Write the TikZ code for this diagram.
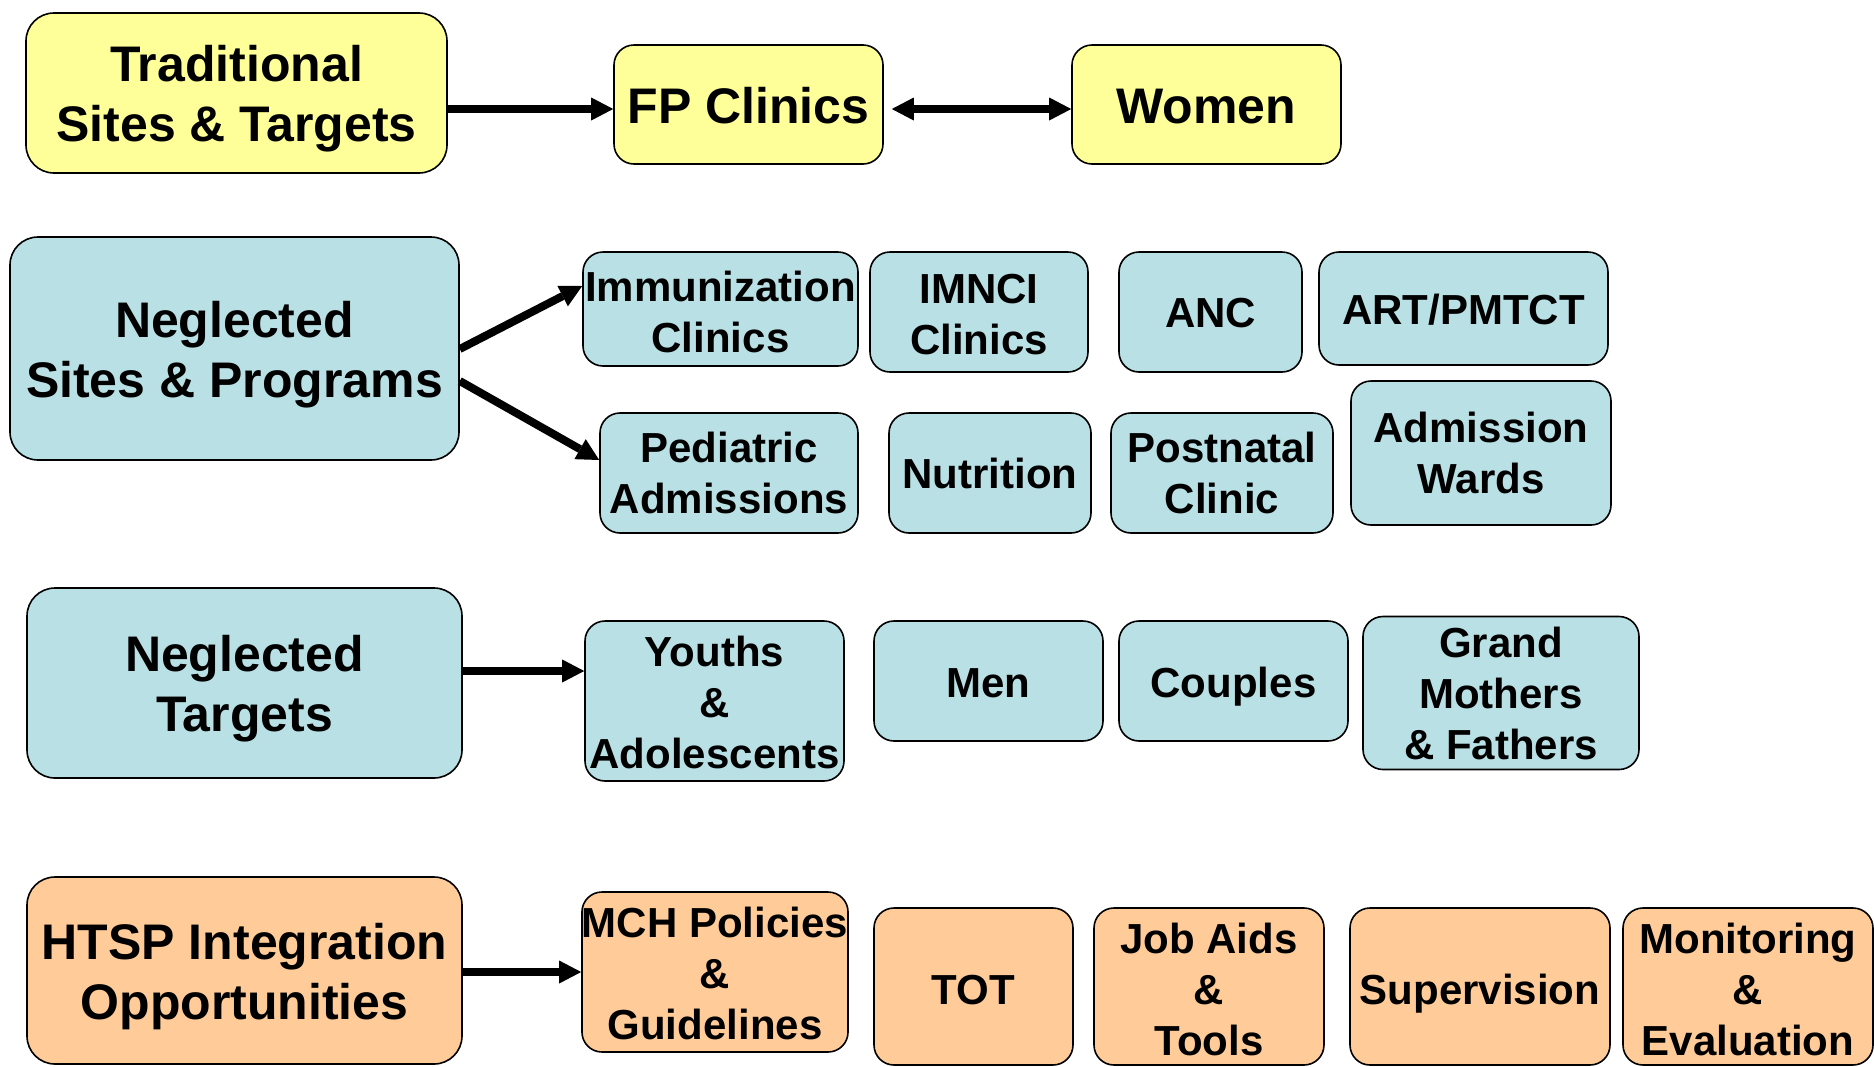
\documentclass[tikz,border=0pt]{standalone}
\usepackage{fontspec}
\setmainfont{Liberation Sans}
\usetikzlibrary{arrows.meta}
\definecolor{boxyellow}{HTML}{FFFF99}
\definecolor{boxblue}{HTML}{B9E0E4}
\definecolor{boxorange}{HTML}{FFCC99}
\newcommand\lowtext[2]{\raisebox{-#1pt}[\height][\depth]{\begin{tabular}{@{}c@{}}#2\end{tabular}}}
\tikzset{
  basebox/.style={draw=black, line width=1.6pt, align=center, inner sep=0pt, text=black},
  bigbox/.style={basebox, rounded corners=28pt, font=\bfseries\fontsize{50}{60}\selectfont},
  smallbox/.style={basebox, rounded corners=20pt, font=\bfseries\fontsize{42}{51}\selectfont},
  yel/.style={fill=boxyellow},
  blu/.style={fill=boxblue},
  ora/.style={fill=boxorange},
  conn/.style={line width=8pt, -{Triangle[length=22pt,width=23pt,line width=0pt]}},
  dconn/.style={line width=8pt, {Triangle[length=22pt,width=23pt,line width=0pt]}-{Triangle[length=22pt,width=23pt,line width=0pt]}},
  sz/.style 2 args={minimum width=#1pt, minimum height=#2pt}
}
\begin{document}
\begin{tikzpicture}[x=1pt,y=-1pt]
\useasboundingbox (0,0) rectangle (1874,1066);
\fill[white] (0,0) rectangle (1874,1066);
\clip (0,0) rectangle (1874,1066);
% Row 1
\node[bigbox, yel, sz={421}{160}] (trad) at (236.5,93) {\lowtext{6}{Traditional\\Sites \& Targets}};
\node[bigbox, yel, rounded corners=20pt, sz={269}{119}] (fp) at (748.5,104.5) {\lowtext{7}{FP Clinics}};
\node[bigbox, yel, rounded corners=20pt, sz={269}{119}] (women) at (1206.5,104.5) {\lowtext{7}{Women}};
% Row 2
\node[bigbox, blu, sz={449}{223}] (nsp) at (234.5,348.5) {\lowtext{7}{Neglected\\Sites \& Programs}};
\node[smallbox, blu, sz={275}{114}] (imm) at (720.5,309) {\lowtext{8}{Immunization\\Clinics}};
\node[smallbox, blu, sz={218}{120}] (imnci) at (979,312) {\lowtext{7}{IMNCI\\Clinics}};
\node[smallbox, blu, sz={183}{120}] (anc) at (1210.5,312) {\lowtext{5}{ANC}};
\node[smallbox, blu, sz={289}{113}] (art) at (1463.5,308.5) {\lowtext{6}{ART/PMTCT}};
\node[smallbox, blu, sz={258}{120}] (ped) at (729,473) {\lowtext{5}{Pediatric\\Admissions}};
\node[smallbox, blu, sz={202}{120}] (nut) at (990,473) {\lowtext{5}{Nutrition}};
\node[smallbox, blu, sz={222}{120}] (post) at (1222,473) {\lowtext{5}{Postnatal\\Clinic}};
\node[smallbox, blu, sz={260}{144}] (adm) at (1481,453) {\lowtext{5}{Admission\\Wards}};
% Row 3
\node[bigbox, blu, sz={435}{190}] (nt) at (244.5,683) {\lowtext{6}{Neglected\\Targets}};
\node[smallbox, blu, sz={259}{160}] (ya) at (714.5,701) {\lowtext{6}{Youths\\\&\\Adolescents}};
\node[smallbox, blu, sz={229}{120}] (men) at (988.5,681) {\lowtext{6}{Men}};
\node[smallbox, blu, sz={229}{120}] (cou) at (1233.5,681) {\lowtext{6}{Couples}};
\node[smallbox, blu, sz={276}{144}] (gmf) at (1501,693) {\lowtext{5}{Grand\\Mothers\\\& Fathers}};
% Row 4
\node[bigbox, ora, sz={435}{187}] (htsp) at (244.5,970.5) {\lowtext{7}{HTSP Integration\\Opportunities}};
\node[smallbox, ora, sz={260}{160}] (mch) at (715,972) {\lowtext{6}{MCH Policies\\\&\\Guidelines}};
\node[smallbox, ora, sz={199}{157}] (tot) at (973.5,986.5) {\lowtext{8}{TOT}};
\node[smallbox, ora, sz={230}{157}] (job) at (1209,986.5) {\lowtext{8}{Job Aids\\\&\\Tools}};
\node[smallbox, ora, sz={260}{157}] (sup) at (1480,986.5) {\lowtext{8}{Supervision}};
\node[smallbox, ora, sz={250}{157}] (mon) at (1748,986.5) {\lowtext{8}{Monitoring\\\&\\Evaluation}};
% Connectors
\draw[conn] (trad.east |- 0,109) -- (fp.west |- 0,109);
\draw[dconn] ([xshift=8pt]fp.east |- 0,109) -- (women.west |- 0,109);
\draw[conn] (nsp.east |- 0,349) -- (imm.west |- 0,286);
\draw[conn] (nsp.east |- 0,381) -- (ped.west |- 0,460);
\draw[conn] (nt.east |- 0,671) -- (ya.west |- 0,671);
\draw[conn] (htsp.east |- 0,972) -- (mch.west |- 0,972);
\end{tikzpicture}
\end{document}
